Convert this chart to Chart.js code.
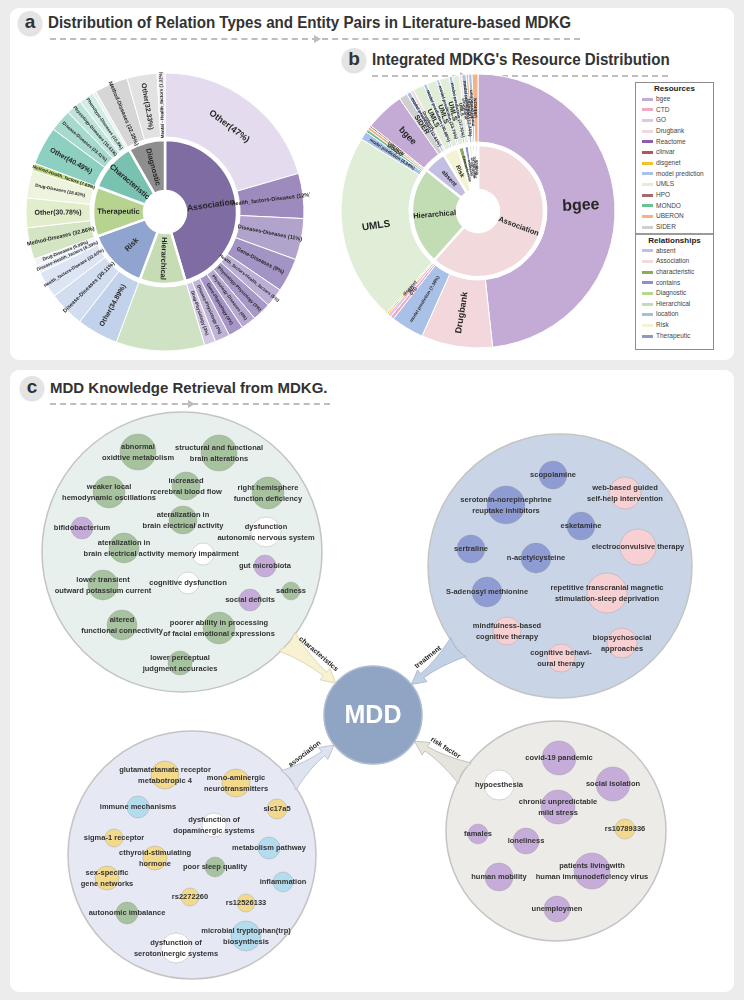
<!DOCTYPE html>
<html>
<head>
<meta charset="utf-8">
<title>MDKG overview</title>
<script src="https://cdn.jsdelivr.net/npm/chart.js@4.4.1/dist/chart.umd.min.js"></script>
<style>
  html, body { margin: 0; padding: 0; }
  body { width: 744px; height: 1000px; background: #ececec; position: relative; overflow: hidden; font-family: "Liberation Sans", Arial, sans-serif; }
  .panel { position: absolute; left: 10px; width: 724px; background: #fff; border-radius: 9px; }
  #panel-top { top: 8px; height: 352px; }
  #panel-c { top: 370px; height: 622px; }
  .badge { position: absolute; width: 24px; height: 24px; border-radius: 50%; background: #e4e4e4; box-shadow: 0 1px 2px rgba(0,0,0,0.18); color: #333; font: bold 19px/22px "Liberation Sans", Arial, sans-serif; text-align: center; }
  .title { position: absolute; color: #333; font: bold 16px/18px "Liberation Sans Narrow", "Liberation Sans", Arial, sans-serif; white-space: nowrap; transform-origin: 0 50%; }
  .narrow { transform: scaleX(0.945); }
  .dash { position: absolute; height: 0; border-top: 2px dashed #bdbdbd; }
  .dash span { position: absolute; top: -5px; border-left: 7px solid #bdbdbd; border-top: 4px solid transparent; border-bottom: 4px solid transparent; }
  canvas { position: absolute; }
  #legend { position: absolute; left: 635px; top: 82px; width: 79px; height: 268px; border: 1px solid #8c8c8c; box-sizing: border-box; background: #fff; }
  .lg-title { font: bold 8px/11px "Liberation Sans", Arial, sans-serif; text-align: center; color: #222; }
  .lg-item { font: 6.5px/10.67px "Liberation Sans", Arial, sans-serif; color: #444; white-space: nowrap; height: 10.67px; }
  .sw { display: inline-block; width: 11px; height: 3px; margin: 0 3px 0 6px; vertical-align: middle; }
  #lg-rel { border-top: 2px solid #9a9a9a; }
</style>
</head>
<body>
<div class="panel" id="panel-top"></div>
<div class="panel" id="panel-c"></div>

<div class="badge" style="left:18px;top:11px;">a</div>
<div class="title narrow" style="left:48px;top:14px;">Distribution of Relation Types and Entity Pairs in Literature-based MDKG</div>
<div class="dash" style="left:50px;top:38px;width:530px;"><span style="left:264px"></span></div>

<div class="badge" style="left:342px;top:48px;">b</div>
<div class="title narrow" style="left:372px;top:51px;">Integrated MDKG's Resource Distribution</div>
<div class="dash" style="left:372px;top:75px;width:296px;"><span style="left:88px"></span></div>

<div class="badge" style="left:20px;top:376px;">c</div>
<div class="title" style="left:50px;top:379px;font-family:'Liberation Sans',Arial,sans-serif;font-size:15px;">MDD Knowledge Retrieval from MDKG.</div>
<div class="dash" style="left:50px;top:403px;width:280px;"><span style="left:138px"></span></div>

<canvas id="chartA" width="290" height="290" style="left:20px;top:67px;"></canvas>
<canvas id="chartB" width="290" height="290" style="left:333px;top:66px;"></canvas>
<div id="legend"><div id="lg-res"></div><div id="lg-rel"></div></div>
<canvas id="chartC" width="724" height="622" style="left:10px;top:370px;"></canvas>

<script>
// --- Panel a data: relation types (inner ring) ---
const relTypesA = ['Association', 'Hierarchical', 'Risk', 'Therapeutic', 'Characteristic', 'Diagnostic'];
const relShareA = [45.4, 10.3, 13.8, 11.2, 11.0, 8.3];

// --- Panel a data: entity pairs inside each relation type (outer ring) ---
const assocPairs = ['Other(47%)', 'Health_factors-Diseases (12%)', 'Diseases-Diseases (11%)', 'Gene-Diseases (9%)',
    'Health_factors-Health_factors (5%)', 'Physiology-Physiology (5%)', 'Physiology-Diseases (4%)',
    'Gene-Physiology (4%)', 'Disease-Physiology (4%)', 'Drug-Physiology (3%)'];
const assocShare = [47, 12, 11, 9, 5, 5, 4, 4, 4, 3];
const hierPairs = [''];
const hierShare = [100];
const riskPairs = ['Other(34.89%)', 'Disease-Diseases (30.11%)', 'Health_factors-Disease (22.60%)', 'Disease-Health_factors (6.39%)', 'Drug-Diseases (5.98%)'];
const riskShare = [34.89, 30.11, 22.60, 6.39, 5.98];
const therPairs = ['Method-Diseases (32.86%)', 'Other(30.78%)', 'Drug-Diseases (28.63%)', 'Method-Health_factors (7.69%)'];
const therShare = [32.86, 30.78, 28.63, 7.69];
const charPairs = ['Other(40.49%)', 'Disease-Diseases (23.41%)', 'Physiology-Diseases (16.61%)', 'Phenotype-Diseases (15.9%)', ''];
const charShare = [40.49, 23.41, 16.61, 15.9, 3.59];
const diagPairs = ['Method-Diseases (32.35%)', 'Other(32.33%)', 'Mental - Health_factors (1.32%)'];
const diagShare = [47, 42, 11];

// --- Panel b data: relationships (inner ring) ---
const relTypesB = ['Association', 'Hierarchical', 'absent', 'Risk', 'characteristic', 'contains', 'Diagnostic', 'Therapeutic', 'location'];
const relTextB = ['Association', 'Hierarchical', 'absent', 'Risk', 'Characteristic', 'contains', 'Diagnostic', 'Therapeutic', 'location'];
const relShareB = [61.6, 24.1, 5.6, 3.8, 1.5, 1.2, 0.8, 0.7, 0.7];

// --- Panel b data: resources inside each relationship (outer ring) ---
const assocRes = ['bgee', 'Drugbank', 'model prediction', 'CTD', 'GO', 'disgenet'];
const assocResShare = [48.3, 8.4, 3.9, 0.4, 0.4, 0.2];
const assocResText = ['bgee', 'Drugbank', 'model prediction (7.38%)', 'CTD', 'GO', 'disgenet'];
const hierRes = ['UMLS', 'model prediction', 'MONDO', 'UBERON', 'HPO'];
const hierResShare = [22.2, 1.0, 0.35, 0.35, 0.2];
const hierResText = ['UMLS', 'model prediction (4.34%)', 'MONDO', 'UBERON', ''];
const absentRes = ['bgee', 'SIDER'];
const absentResShare = [4.6, 1.0];
const absentResText = ['bgee', 'SIDER'];
const riskRes = ['model prediction', 'Drugbank', 'UMLS', 'model prediction', 'UMLS'];
const riskResShare = [0.5, 0.4, 1.3, 0.4, 1.2];
const riskResText = ['model prediction (12.61%)', 'Drugbank', 'UMLS', 'model prediction (30.88%)', 'UMLS'];
const charRes = ['model prediction', 'UMLS'];
const charResShare = [0.35, 1.15];
const charResText = ['model prediction (33.75%)', 'UMLS'];
const containsRes = ['model prediction', 'UMLS'];
const containsResShare = [0.4, 0.8];
const containsResText = ['model prediction (17.76%)', 'UMLS'];
const diagRes = ['Drugbank', 'model prediction'];
const diagResShare = [0.3, 0.5];
const diagResText = ['Drugbank', 'model prediction (12.74%)'];
const therRes = ['UBERON', 'model prediction'];
const therResShare = [0.3, 0.4];
const therResText = ['UBERON', 'model prediction'];
const locRes = ['UBERON'];
const locResShare = [0.7];
const locResText = ['UBERON'];

const resourceNames = ['bgee', 'CTD', 'GO', 'Drugbank', 'Reactome', 'clinvar', 'disgenet', 'model prediction', 'UMLS', 'HPO', 'MONDO', 'UBERON', 'SIDER'];
const relationNames = ['absent', 'Association', 'characteristic', 'contains', 'Diagnostic', 'Hierarchical', 'location', 'Risk', 'Therapeutic'];

// --- Panel c data: knowledge clusters around MDD (x, y, r in map units) ---
const hubName = 'MDD';
const hubPoint = [363, 343, 49];
const clusterNames = ['characteristics', 'treatment', 'association', 'risk factor'];
const clusterPoints = [[172, 180, 140], [550, 194, 132], [182, 483, 124], [546, 459, 110]];

const charNodes = ['abnormal\noxidtive metabolism', 'structural and functional\nbrain alterations', 'increased\nrcerebral blood flow',
    'weaker local\nhemodynamic oscillations', 'right hemisphere\nfunction deficiency', 'ateralization in\nbrain electrical activity',
    'dysfunction\nautonomic nervous system', 'bifidobacterium', 'ateralization in\nbrain electrical activity', 'memory impairment',
    'gut microbiota', 'lower transient\noutward potassium current', 'cognitive dysfunction', 'sadness', 'social deficits',
    'altered\nfunctional connectivity', 'poorer ability in processing\nof facial emotional expressions', 'lower perceptual\njudgment accuracies'];
const charTypes = ['physiology', 'physiology', 'physiology', 'physiology', 'physiology', 'physiology', 'disease', 'factor', 'physiology',
    'disease', 'factor', 'physiology', 'disease', 'physiology', 'factor', 'physiology', 'physiology', 'physiology'];
const charPoints = [[128, 80, 18], [209, 81, 18], [176, 114, 14], [99, 120, 16], [258, 121, 16], [173, 148, 14], [256, 160, 15],
    [72, 156, 11], [114, 176, 15], [193, 182, 11], [255, 194, 11], [93, 213, 15], [178, 211, 11], [281, 219, 9], [240, 228, 11],
    [112, 253, 15], [209, 256, 16], [170, 291, 12]];

const treatNodes = ['scopolamine', 'web-based guided\nself-help intervention', 'serotonin-norepinephrine\nreuptake inhibitors', 'esketamine',
    'sertraline', 'electroconvulsive therapy', 'n-acetylcysteine', 'S-adenosyl methionine',
    'repetitive transcranial magnetic\nstimulation-sleep deprivation', 'mindfulness-based\ncognitive therapy',
    'biopsychosocial\napproaches', 'cognitive behavi-\noural therapy'];
const treatTypes = ['drug', 'method', 'drug', 'drug', 'drug', 'method', 'drug', 'drug', 'method', 'method', 'method', 'method'];
const treatPoints = [[543, 103, 14], [615, 121, 16], [496, 133, 19], [571, 154, 14], [461, 177, 14], [628, 175, 18], [526, 186, 15],
    [477, 220, 15], [597, 221, 20], [497, 259, 14], [612, 271, 15], [551, 286, 14]];

const assocNodes = ['glutamatetamate receptor\nmetabotropic 4', 'mono-aminergic\nneurotransmitters', 'immune mechanisms', 'slc17a5',
    'dysfunction of\ndopaminergic systems', 'sigma-1 receptor', 'metabolism pathway', 'cthyroid-stimulating\nhormone',
    'poor sleep quality', 'sex-specific\ngene networks', 'inflammation', 'rs2272260', 'rs12526133', 'autonomic imbalance',
    'microbial tryptophan(trp)\nbiosynthesis', 'dysfunction of\nserotoninergic systems'];
const assocTypes = ['gene', 'gene', 'pathway', 'gene', 'disease', 'gene', 'pathway', 'gene', 'physiology', 'gene', 'pathway',
    'gene', 'gene', 'physiology', 'pathway', 'disease'];
const assocPoints = [[155, 403, 14], [226, 411, 14], [128, 435, 11], [267, 437, 10], [204, 453, 12], [104, 466, 9], [259, 476, 11],
    [145, 486, 12], [205, 495, 10], [97, 506, 12], [273, 510, 10], [180, 525, 9], [236, 531, 9], [117, 541, 11], [236, 564, 15],
    [166, 576, 15]];

const riskNodes = ['covid-19 pandemic', 'hypoesthesia', 'social isolation', 'chronic unpredictable\nmild stress', 'rs10789336',
    'famales', 'loneliness', 'patients livingwith\nhuman immunodeficiency virus', 'human mobility', 'unemploymen'];
const riskTypes = ['factor', 'disease', 'factor', 'factor', 'gene', 'factor', 'factor', 'factor', 'factor', 'factor'];
const riskPoints = [[549, 386, 17], [489, 413, 15], [603, 412, 17], [548, 435, 17], [615, 457, 10], [468, 462, 10], [516, 469, 13],
    [582, 499, 18], [489, 505, 14], [547, 537, 13]];

// --- Styles ---
const FONT = '"Liberation Sans", Arial, sans-serif';
const innerColorsA = ['#7e6ca3', '#c6dcb4', '#8fa4cf', '#b6d490', '#79c1b0', '#8e8e8e'];
const outerColorsA = [
    ['#e4dcee', '#9d8bbe', '#b2a3cd', '#a493c5', '#bcafd6', '#a898c8', '#b6a8d1', '#a695c6', '#c0b3d8', '#d3c9e4'],
    ['#cfe2c3'],
    ['#c2d2eb', '#d2ddf0', '#dde5f4', '#e8edf8', '#f0f3fa'],
    ['#d3e5c2', '#e2edcb', '#edf3dd', '#c3dd86'],
    ['#8dcfc0', '#a7d9ce', '#bde3da', '#d2ece6', '#e4f3ef'],
    ['#d6d6d6', '#e2e2e2', '#efefef']
];
const resColors = {
    'bgee': '#c4abd5', 'CTD': '#f0a9c3', 'GO': '#dfc5e6', 'Drugbank': '#f2d8dc', 'Reactome': '#8e5ca8', 'clinvar': '#b85452',
    'disgenet': '#f2c12e', 'model prediction': '#a9c1e6', 'UMLS': '#e0eed8', 'HPO': '#a46a6e', 'MONDO': '#6cc391',
    'UBERON': '#f2b486', 'SIDER': '#cfcfcf'
};
const relColors = {
    'absent': '#c3bfe3', 'Association': '#f2dadc', 'characteristic': '#8cab5e', 'contains': '#8c8fcb', 'Diagnostic': '#b5d88d',
    'Hierarchical': '#c2dcb4', 'location': '#a8bdd8', 'Risk': '#f3f2d2', 'Therapeutic': '#8a9cbd'
};
const nodeColors = {
    physiology: '#a7c29f', factor: '#c6acd9', disease: '#ffffff', drug: '#8e9cd3',
    method: '#f7d0d4', gene: '#f2d98b', pathway: '#b3dcee'
};
const clusterFill = ['#e7f0ed', '#c9d5e7', '#e6e8f3', '#ecebe7'];
const arrowFill = ['#f8f2d3', '#c3d1e6', '#dee3f0', '#e5e5de'];
const arrowStroke = ['#d9d2ae', '#a6b6cd', '#b8bfd3', '#bdbdb3'];

// --- Helpers ---
function buildOuter(parentShares, childShares, childTexts, childColors) {
    const out = { data: [], labels: [], colors: [] };
    parentShares.forEach((ps, k) => {
        const tot = childShares[k].reduce((a, b) => a + b, 0);
        childShares[k].forEach((v, j) => {
            out.data.push(ps * v / tot);
            out.labels.push(childTexts[k][j]);
            out.colors.push(childColors[k][j]);
        });
    });
    return out;
}

function makeRingLabels(sizeFor, tangentialFor) {
    return {
        id: 'ringLabels',
        afterDatasetsDraw(chart) {
            const ctx = chart.ctx;
            chart.data.datasets.forEach((ds, di) => {
                if (!ds.sliceLabels) return;
                chart.getDatasetMeta(di).data.forEach((arc, i) => {
                    const text = ds.sliceLabels[i];
                    if (!text) return;
                    const p = arc.getProps(['x', 'y', 'startAngle', 'endAngle', 'innerRadius', 'outerRadius']);
                    const mid = (p.startAngle + p.endAngle) / 2;
                    const span = (p.endAngle - p.startAngle) * 180 / Math.PI;
                    const r = (p.innerRadius + p.outerRadius) / 2;
                    let rot = tangentialFor(ds.ring, span) ? mid + Math.PI / 2 : mid;
                    if (Math.cos(rot) < -0.1) rot += Math.PI;
                    ctx.save();
                    ctx.translate(p.x + Math.cos(mid) * r, p.y + Math.sin(mid) * r);
                    ctx.rotate(rot);
                    ctx.font = `bold ${sizeFor(ds.ring, text, span)}px ${FONT}`;
                    ctx.fillStyle = '#262626';
                    ctx.textAlign = 'center';
                    ctx.textBaseline = 'middle';
                    ctx.fillText(text, 0, 0);
                    ctx.restore();
                });
            });
        }
    };
}

function ringChart(id, outer, inner, geo, sizeFor, tangentialFor) {
    const total = geo.outer + geo.gap + geo.inner;
    return new Chart(document.getElementById(id), {
        type: 'doughnut',
        data: {
            datasets: [
                { data: outer.data, backgroundColor: outer.colors, borderColor: '#fff', borderWidth: 1, weight: geo.outer, sliceLabels: outer.labels, ring: 'outer' },
                { data: [1], backgroundColor: 'rgba(0,0,0,0)', borderWidth: 0, weight: geo.gap },
                { data: inner.data, backgroundColor: inner.colors, borderColor: '#fff', borderWidth: 2.5, weight: geo.inner, sliceLabels: inner.labels, ring: 'inner' }
            ]
        },
        options: {
            responsive: false,
            animation: false,
            events: [],
            radius: geo.radius,
            cutout: ((geo.radius - total) / geo.radius * 100) + '%',
            layout: { padding: 0 },
            plugins: { legend: { display: false }, tooltip: { enabled: false } }
        },
        plugins: [makeRingLabels(sizeFor, tangentialFor)]
    });
}

// --- Panel a ---
const outerA = buildOuter(relShareA,
    [assocShare, hierShare, riskShare, therShare, charShare, diagShare],
    [assocPairs, hierPairs, riskPairs, therPairs, charPairs, diagPairs],
    outerColorsA);
ringChart('chartA', outerA, { data: relShareA, colors: innerColorsA, labels: relTypesA },
    { radius: 139, outer: 64, gap: 3, inner: 51 },
    (ring, text, span) => {
        if (ring === 'inner') return span > 100 ? 8.5 : 7.5;
        if (span > 60) return 9;
        if (text.startsWith('Other')) return 7;
        return span > 12 ? 5.5 : 4.5;
    },
    (ring, span) => ring === 'outer' && span > 60);

// --- Panel b ---
const resGroups = [assocRes, hierRes, absentRes, riskRes, charRes, containsRes, diagRes, therRes, locRes];
const outerB = buildOuter(relShareB,
    [assocResShare, hierResShare, absentResShare, riskResShare, charResShare, containsResShare, diagResShare, therResShare, locResShare],
    [assocResText, hierResText, absentResText, riskResText, charResText, containsResText, diagResText, therResText, locResText],
    resGroups.map(g => g.map(n => resColors[n])));
ringChart('chartB', outerB, { data: relShareB, colors: relTypesB.map(n => relColors[n]), labels: relTextB },
    { radius: 137, outer: 68, gap: 3, inner: 45 },
    (ring, text, span) => {
        if (ring === 'inner') return span > 30 ? 7.5 : (span > 8 ? 6 : 4);
        if (text.includes('(')) return 4.5;
        if (span > 100) return 16;
        if (span > 50) return 10;
        if (span > 10) return 9;
        if (span > 3) return 7;
        return 4.5;
    },
    () => false);

// --- Legend ---
function fillLegend(el, title, names, colors) {
    el.innerHTML = `<div class="lg-title">${title}</div>` +
        names.map(n => `<div class="lg-item"><span class="sw" style="background:${colors[n]}"></span>${n}</div>`).join('');
}
fillLegend(document.getElementById('lg-res'), 'Resources', resourceNames, resColors);
fillLegend(document.getElementById('lg-rel'), 'Relationships', relationNames, relColors);

// --- Panel c: knowledge map as a bubble chart ---
const toPoints = arr => arr.map(p => ({ x: p[0], y: p[1], r: p[2] }));
const nodeSets = [
    [charNodes, charTypes, charPoints],
    [treatNodes, treatTypes, treatPoints],
    [assocNodes, assocTypes, assocPoints],
    [riskNodes, riskTypes, riskPoints]
];

function drawArrow(ctx, c, hub, idx) {
    const dx = hub.x - c.x, dy = hub.y - c.y, d = Math.hypot(dx, dy);
    const ux = dx / d, uy = dy / d;
    const cr = c.options.radius, hr = hub.options.radius;
    const sx = c.x + ux * (cr - 2), sy = c.y + uy * (cr - 2);
    const len = d - cr - hr + 2;
    const ang = Math.atan2(uy, ux);
    ctx.save();
    ctx.translate(sx, sy);
    ctx.rotate(ang);
    ctx.beginPath();
    ctx.moveTo(0, -12);
    ctx.quadraticCurveTo(len * 0.45, -3, len - 14, -2.5);
    ctx.lineTo(len - 14, -7.5);
    ctx.lineTo(len, 0);
    ctx.lineTo(len - 14, 7.5);
    ctx.lineTo(len - 14, 2.5);
    ctx.quadraticCurveTo(len * 0.45, 3, 0, 12);
    ctx.quadraticCurveTo(5, 0, 0, -12);
    ctx.closePath();
    ctx.fillStyle = arrowFill[idx];
    ctx.strokeStyle = arrowStroke[idx];
    ctx.lineWidth = 0.8;
    ctx.fill();
    ctx.stroke();
    ctx.restore();

    // label on the upper side of the arrow
    let nx = -uy, ny = ux;
    if (ny > 0) { nx = -nx; ny = -ny; }
    const mx = sx + ux * len * 0.5 + nx * 11, my = sy + uy * len * 0.5 + ny * 11;
    let rot = ang;
    if (Math.cos(rot) < 0) rot += Math.PI;
    ctx.save();
    ctx.translate(mx, my);
    ctx.rotate(rot);
    ctx.font = `bold 7px ${FONT}`;
    ctx.fillStyle = '#222';
    ctx.textAlign = 'center';
    ctx.textBaseline = 'middle';
    ctx.fillText(clusterNames[idx], 0, 0);
    ctx.restore();
}

const mapLabels = {
    id: 'mapLabels',
    afterDatasetsDraw(chart) {
        const ctx = chart.ctx;
        const hub = chart.getDatasetMeta(1).data[0];
        chart.getDatasetMeta(0).data.forEach((c, i) => drawArrow(ctx, c, hub, i));

        ctx.save();
        ctx.fillStyle = '#fff';
        ctx.font = `bold 25px ${FONT}`;
        ctx.textAlign = 'center';
        ctx.textBaseline = 'middle';
        ctx.fillText(hubName, hub.x, hub.y + 1);
        ctx.restore();

        nodeSets.forEach((set, k) => {
            chart.getDatasetMeta(k + 2).data.forEach((el, i) => {
                const lines = set[0][i].split('\n');
                ctx.save();
                ctx.font = `bold 7.5px ${FONT}`;
                ctx.fillStyle = '#333';
                ctx.textAlign = 'center';
                ctx.textBaseline = 'middle';
                lines.forEach((ln, j) => ctx.fillText(ln, el.x, el.y + (j - (lines.length - 1) / 2) * 11));
                ctx.restore();
            });
        });
    }
};

new Chart(document.getElementById('chartC'), {
    type: 'bubble',
    data: {
        datasets: [
            { data: toPoints(clusterPoints), backgroundColor: clusterFill, borderColor: '#c4c4c4', borderWidth: 1.5, order: 3 },
            { data: toPoints([hubPoint]), backgroundColor: '#8fa5c3', borderColor: '#aebbd0', borderWidth: 1.5, order: 2 },
            ...nodeSets.map(set => ({
                data: toPoints(set[2]),
                backgroundColor: set[1].map(t => nodeColors[t]),
                borderColor: 'rgba(150,150,150,0.45)',
                borderWidth: 0.8,
                order: 1
            }))
        ]
    },
    options: {
        responsive: false,
        animation: false,
        events: [],
        layout: { padding: 0, autoPadding: false },
        scales: {
            x: { type: 'linear', display: false, min: 0, max: 724 },
            y: { type: 'linear', display: false, min: -2, max: 620, reverse: true }
        },
        plugins: { legend: { display: false }, tooltip: { enabled: false } }
    },
    plugins: [mapLabels]
});
</script>
</body>
</html>
